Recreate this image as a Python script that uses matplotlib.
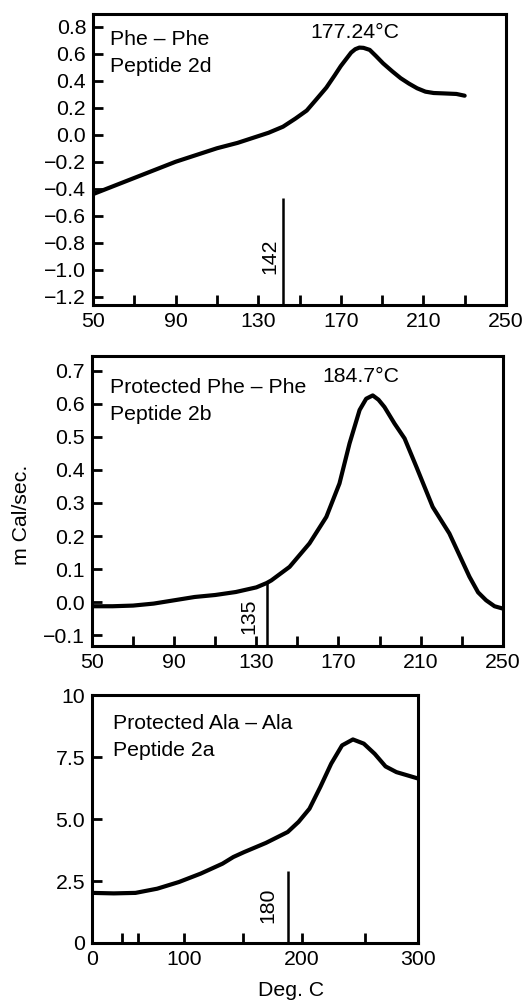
import matplotlib
matplotlib.use("Agg")
import matplotlib.pyplot as plt
from matplotlib.ticker import FixedLocator

plt.rcParams['font.family'] = ['Liberation Sans', 'DejaVu Sans']

# ---- Panel 1: Phe - Phe, Peptide 2d ----
p1_x = [50, 60, 70, 80, 90, 100, 110, 120, 126, 135, 142, 148, 153.5, 158, 163, 167, 170, 173, 175, 177, 179, 181, 184, 187, 190.5, 195, 199, 203, 207, 211, 215, 220, 226, 230]
p1_y = [-0.44, -0.38, -0.32, -0.26, -0.20, -0.15, -0.10, -0.06, -0.03, 0.015, 0.06, 0.12, 0.18, 0.26, 0.35, 0.44, 0.51, 0.57, 0.61, 0.635, 0.647, 0.645, 0.63, 0.585, 0.53, 0.47, 0.42, 0.38, 0.345, 0.32, 0.31, 0.307, 0.303, 0.29]
p1_onset = 142
p1_onset_top = -0.47
p1_peak_label = "177.24°C"
p1_peak_pos = (177, 0.76)
p1_xticks = [50, 90, 130, 170, 210, 250]
p1_minor = [70, 110, 150, 190, 230]
p1_yticks = [0.8, 0.6, 0.4, 0.2, 0.0, -0.2, -0.4, -0.6, -0.8, -1.0, -1.2]

# ---- Panel 2: Protected Phe - Phe, Peptide 2b ----
p2_x = [50, 60, 70, 80, 90, 100, 110, 120, 130, 135, 137.3, 146.2, 155.9, 164.1, 170.5, 175.4, 180.3, 183.5, 186.7, 189.5, 192.4, 197.3, 202.2, 207.9, 215.9, 224, 233.8, 238, 241.9, 246, 250]
p2_y = [-0.012, -0.012, -0.010, -0.004, 0.006, 0.016, 0.022, 0.031, 0.045, 0.058, 0.066, 0.107, 0.178, 0.258, 0.359, 0.48, 0.581, 0.615, 0.625, 0.612, 0.59, 0.54, 0.495, 0.41, 0.288, 0.208, 0.077, 0.03, 0.006, -0.012, -0.019]
p2_onset = 135
p2_onset_top = 0.058
p2_peak_label = "184.7°C"
p2_peak_pos = (181, 0.682)
p2_xticks = [50, 90, 130, 170, 210, 250]
p2_minor = [70, 110, 150, 190, 230]
p2_yticks = [0.7, 0.6, 0.5, 0.4, 0.3, 0.2, 0.1, 0.0, -0.1]

# ---- Panel 3: Protected Ala - Ala, Peptide 2a ----
p3_x = [0, 20, 40, 60, 80, 100, 120, 130, 140, 160, 180, 190, 200, 210, 220, 230, 240, 250, 260, 270, 280, 290, 300]
p3_y = [2.02, 2.0, 2.02, 2.19, 2.46, 2.8, 3.2, 3.47, 3.67, 4.04, 4.48, 4.89, 5.42, 6.3, 7.24, 7.98, 8.22, 8.05, 7.64, 7.13, 6.9, 6.77, 6.64]
p3_onset = 180
p3_onset_top = 2.91
p3_xtick_pos = [0, 85, 193, 300]
p3_xtick_labels = ["0", "100", "200", "300"]
p3_minor = [28, 42, 139, 251]
p3_yticks = [0, 2.5, 5.0, 7.5, 10]
p3_ytick_labels = ["0", "2.5", "5.0", "7.5", "10"]

FS = 15.3
LW_CURVE = 3.0
LW_SPINE = 2.2

fig = plt.figure(figsize=(5.32, 10.02), dpi=100)

def style(ax):
    for s in ax.spines.values():
        s.set_linewidth(LW_SPINE)
    ax.tick_params(axis='both', which='both', direction='in', labelsize=FS, width=2.0, pad=5)
    ax.tick_params(axis='both', which='both', length=7)
    ax.tick_params(axis='y', which='minor', length=0)

def mfmt(v):
    s = f"{v:.1f}"
    return s.replace('-', '\u2212')

# Panel 1
ax1 = fig.add_axes([0.175, 0.696, 0.776, 0.290])
ax1.plot(p1_x, p1_y, color='black', lw=LW_CURVE, solid_capstyle='round', solid_joinstyle='round')
ax1.set_xlim(50, 250)
ax1.set_ylim(-1.26, 0.896)
ax1.vlines(p1_onset, -1.26, p1_onset_top, color='black', lw=1.8)
ax1.set_xticks(p1_xticks)
ax1.xaxis.set_minor_locator(FixedLocator(p1_minor))
ax1.set_yticks(p1_yticks)
ax1.set_yticklabels([mfmt(v) for v in p1_yticks])
style(ax1)
ax1.text(0.041, 0.911, "Phe \u2013 Phe", transform=ax1.transAxes, fontsize=FS, va='center', ha='left')
ax1.text(0.041, 0.818, "Peptide 2d", transform=ax1.transAxes, fontsize=FS, va='center', ha='left')
ax1.text(p1_peak_pos[0], p1_peak_pos[1], p1_peak_label, fontsize=FS, ha='center', va='center')
ax1.text(135.5, -0.90, str(p1_onset), rotation=90, fontsize=FS, ha='center', va='center')

# Panel 2
ax2 = fig.add_axes([0.173, 0.355, 0.772, 0.290])
ax2.plot(p2_x, p2_y, color='black', lw=LW_CURVE, solid_capstyle='round', solid_joinstyle='round')
ax2.set_xlim(50, 250)
ax2.set_ylim(-0.133, 0.745)
ax2.vlines(p2_onset, -0.133, p2_onset_top, color='black', lw=1.8)
ax2.set_xticks(p2_xticks)
ax2.xaxis.set_minor_locator(FixedLocator(p2_minor))
ax2.set_yticks(p2_yticks)
ax2.set_yticklabels([mfmt(v) for v in p2_yticks])
style(ax2)
ax2.text(0.044, 0.89, "Protected Phe \u2013 Phe", transform=ax2.transAxes, fontsize=FS, va='center', ha='left')
ax2.text(0.044, 0.797, "Peptide 2b", transform=ax2.transAxes, fontsize=FS, va='center', ha='left')
ax2.text(p2_peak_pos[0], p2_peak_pos[1], p2_peak_label, fontsize=FS, ha='center', va='center')
ax2.text(126.5, -0.043, str(p2_onset), rotation=90, fontsize=FS, ha='center', va='center')

# Panel 3
ax3 = fig.add_axes([0.173, 0.059, 0.613, 0.247])
ax3.plot(p3_x, p3_y, color='black', lw=LW_CURVE, solid_capstyle='round', solid_joinstyle='round')
ax3.set_xlim(0, 300)
ax3.set_ylim(0, 10)
ax3.vlines(p3_onset, 0, p3_onset_top, color='black', lw=1.8)
ax3.set_xticks(p3_xtick_pos)
ax3.set_xticklabels(p3_xtick_labels)
ax3.xaxis.set_minor_locator(FixedLocator(p3_minor))
ax3.set_yticks(p3_yticks)
ax3.set_yticklabels(p3_ytick_labels)
style(ax3)
ax3.text(0.064, 0.887, "Protected Ala \u2013 Ala", transform=ax3.transAxes, fontsize=FS, va='center', ha='left')
ax3.text(0.064, 0.778, "Peptide 2a", transform=ax3.transAxes, fontsize=FS, va='center', ha='left')
ax3.text(162, 1.52, str(p3_onset), rotation=90, fontsize=FS, ha='center', va='center')

fig.text(22/532, 1 - 515/1002, "m Cal/sec.", rotation=90, fontsize=FS, ha='center', va='center')
fig.text(291/532, 1 - 990/1002, "Deg. C", fontsize=FS, ha='center', va='center')

fig.savefig("out.png", dpi=100)
